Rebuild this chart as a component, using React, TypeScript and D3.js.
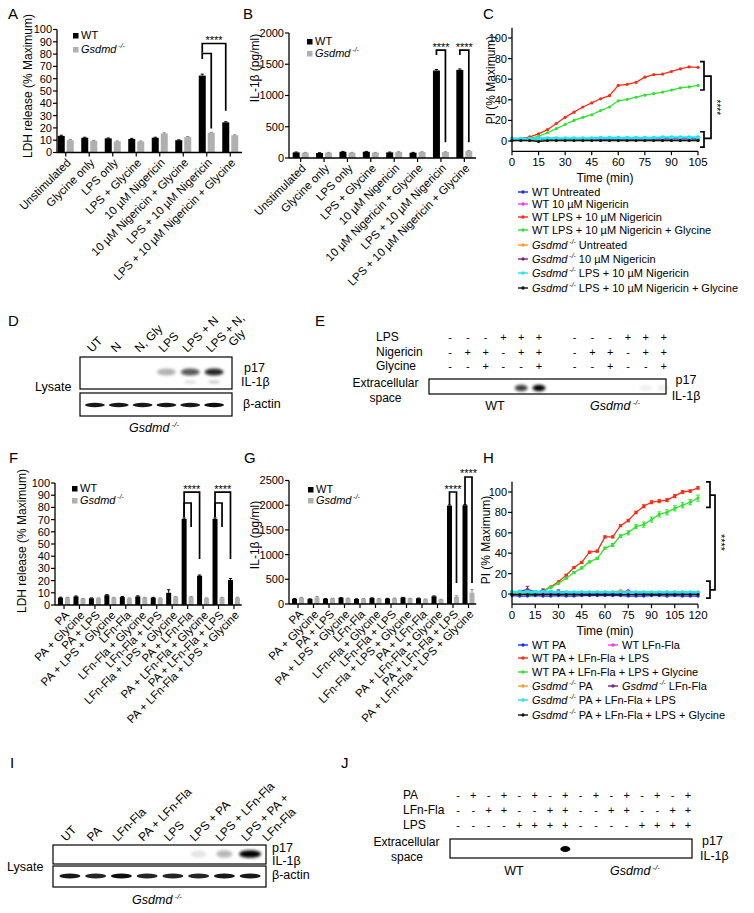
import React from "react";
import * as d3 from "d3";

const FONT = "'Liberation Sans', Arial, Helvetica, sans-serif";
const GREY = "#b0b0b0";
const BLUE = "#1b2cf5";
const MAGENTA = "#f03cf0";
const RED = "#ff2a14";
const GREEN = "#2ee52e";
const ORANGE = "#ff9a26";
const PURPLE = "#7e1f8c";
const CYAN = "#18e8f2";
const BLACK = "#141414";

// ===== Panel A =====
const catsA = ["Unstimulated", "Glycine only", "LPS only", "LPS + Glycine", "10 µM Nigericin", "10 µM Nigericin + Glycine", "LPS + 10 µM Nigericin", "LPS + 10 µM Nigericin + Glycine"];
const ldhWtA = [13.5, 12, 11.5, 11, 12, 10, 62.5, 24.5];
const ldhWtErrA = [0.5, 0.4, 0.3, 0.5, 0.4, 0.3, 1.2, 0.5];
const ldhKoA = [10, 9.5, 9, 9, 15.5, 12.5, 16, 14];
const ldhKoErrA = [0.6, 0.4, 0.4, 0.4, 0.5, 0.5, 0.4, 0.4];
const ticksA = [0, 10, 20, 30, 40, 50, 60, 70, 80, 90, 100];

// ===== Panel B =====
const il1bWtB = [90, 80, 100, 100, 90, 85, 1400, 1410];
const il1bWtErrB = [6, 5, 6, 6, 5, 5, 15, 15];
const il1bKoB = [85, 85, 85, 85, 95, 95, 95, 110];
const il1bKoErrB = [5, 5, 5, 5, 5, 5, 5, 8];
const ticksB = [0, 500, 1000, 1500, 2000];

// ===== Panel C =====
const timesC = [0, 5, 10, 15, 20, 25, 30, 35, 40, 45, 50, 55, 60, 65, 70, 75, 80, 85, 90, 95, 100, 105];
const blueC = [1.5, 2, 2.5, 2, 1.5, 2, 1.5, 1.5, 1.5, 1.5, 1.5, 1.5, 1.5, 1.5, 1.5, 1.5, 1.5, 1.5, 2, 2, 2, 1.5];
const magentaC = [2.5, 2.5, 2.5, 2.5, 2.5, 2.5, 2, 2, 2, 2, 2, 2, 1.5, 1.5, 1.5, 1.5, 1.5, 1.5, 1.5, 1.5, 1, 0.5];
const redC = [1, 2, 4, 7, 11, 17, 23, 28, 33, 37, 41, 44, 54, 55, 57, 62, 64.5, 65, 67.5, 70, 72, 71.5];
const greenC = [1, 1.5, 2.5, 4.5, 8, 12, 16, 20, 23, 25.5, 29.5, 33, 39, 40.5, 42.5, 44.5, 46, 47.5, 49.5, 51.5, 52.5, 54];
const orangeC = [0.5, 0.5, 0.5, 0.5, 0.5, 0.5, 0.5, 0.5, 0.5, 0.5, 0.5, 0.5, 0.5, 0.5, 0.5, 0.5, 0.5, 0.5, 0.5, 0.5, 0.5, 0.5];
const purpleC = [2, 2, 2, 2, 2, 2, 2, 2, 2, 2, 2, 2, 2, 2, 2, 2, 2, 2, 2.5, 2.5, 2.5, 2];
const cyanC = [2, 2, 2, 2.5, 2.5, 2.5, 2.5, 2.5, 2.5, 2.5, 3, 3, 3, 3, 3, 3, 3, 3.5, 3.5, 3.5, 3.5, 3.5];
const blackC = [0.5, 0.5, 0.5, -0.5, 0.5, 0.5, 0.5, 0.5, 0.5, 0.5, 0.5, 0.5, 0.5, 0.5, 0.5, 0.5, 0.5, 0.5, 0.5, 0.5, 0.5, 0.5];
const xTicksC = [0, 15, 30, 45, 60, 75, 90, 105];
const yTicksC = [0, 20, 40, 60, 80, 100];

// ===== Panel D =====
const lanesD = [["UT"], ["N"], ["N, Gly"], ["LPS"], ["LPS + N"], ["LPS + N,", "Gly"]];
const p17D = [0, 0, 0, 0.3, 0.65, 0.85];
const p17LowD = [0, 0, 0, 0, 0.15, 0.22];
const actinD = [0.9, 0.9, 0.9, 0.9, 0.9, 0.95];

// ===== Panel E =====
const lpsE = ["-", "-", "-", "+", "+", "+", "-", "-", "-", "+", "+", "+"];
const nigE = ["-", "+", "+", "-", "+", "+", "-", "+", "+", "-", "+", "+"];
const glyE = ["-", "-", "+", "-", "-", "+", "-", "-", "+", "-", "-", "+"];
const p17E = [0, 0, 0, 0, 0.75, 1, 0, 0, 0, 0, 0.06, 0.06];

// ===== Panel F =====
const catsF = ["PA", "PA + Glycine", "PA + LPS", "PA + LPS + Glycine", "LFn-Fla", "LFn-Fla + Glycine", "LFn-Fla + LPS", "LFn-Fla + LPS + Glycine", "PA + LFn-Fla", "PA + LFn-Fla + Glycine", "PA + LFn-Fla + LPS", "PA + LFn-Fla + LPS + Glycine"];
const ldhWtF = [6, 7, 5.5, 8, 6.5, 7, 6, 10, 70.5, 24, 70.5, 20.5];
const ldhWtErrF = [0.4, 0.4, 0.3, 0.5, 0.5, 0.5, 0.3, 2.5, 0.8, 0.6, 0.8, 1.2];
const ldhKoF = [6, 5, 5.5, 6, 5.5, 6, 5.5, 6.5, 6.5, 5.5, 6, 6];
const ldhKoErrF = [0.3, 0.3, 0.3, 0.3, 0.3, 0.3, 0.3, 0.4, 0.5, 0.3, 0.3, 0.4];

// ===== Panel G =====
const il1bWtG = [105, 100, 105, 125, 100, 120, 110, 130, 115, 155, 1990, 2000];
const il1bWtErrG = [5, 5, 5, 5, 5, 5, 5, 5, 5, 8, 15, 15];
const il1bKoG = [125, 135, 110, 115, 105, 105, 115, 110, 95, 90, 145, 230];
const il1bKoErrG = [10, 15, 5, 5, 5, 5, 5, 5, 5, 5, 20, 60];
const ticksG = [0, 500, 1000, 1500, 2000, 2500];

// ===== Panel H =====
const timesH = [0, 5, 10, 15, 20, 25, 30, 35, 40, 45, 50, 55, 60, 65, 70, 75, 80, 85, 90, 95, 100, 105, 110, 115, 120];
const blueH = [-1.5, -2, -2, -1.5, -2, -2, -1.5, -2, -2, -1.5, -1.5, -1.5, -1.5, -1.5, -1.5, -2, -2, -2, -1.5, -1.5, -2, -1.5, -2, -2, -2];
const magentaH = [0.5, 0.5, 0.5, 0.5, 0.5, 0.5, 0.5, 0.5, 0.5, 0.5, 0.5, 0.5, 0.5, 0.5, 0.5, 3.5, 0.5, 0.5, 0.5, 0.5, 0.5, 0.5, 0.5, 0.5, 0.5];
const redH = [0, 0, 0.5, 1, 3, 7, 12, 18.5, 26, 31, 41, 42, 56, 56, 67, 72, 80, 86, 90, 91, 92, 96, 100, 101, 104];
const redErrH = [0.5, 0.5, 0.5, 0.5, 0.5, 0.5, 0.8, 0.8, 0.8, 1, 1, 1, 1, 1, 1, 1.2, 1.2, 1.5, 1.5, 1.5, 1.5, 1.5, 1.5, 1.2, 1.2];
const greenH = [0, 0, 0, 1, 3, 6.5, 10.5, 15.5, 21, 25.5, 31.5, 35, 45, 48, 57, 60, 66, 68, 73, 78, 80, 84, 87, 90, 94];
const greenErrH = [0.5, 0.5, 0.5, 0.5, 0.5, 0.5, 0.8, 0.8, 1, 1, 1, 1, 1, 1.5, 1.5, 2, 2, 2.5, 2.5, 2.5, 2.5, 2.5, 2.5, 2.5, 3];
const orangeH = [1, 1, 1.5, 1.5, 1, 2, 2, 2, 1.5, 1.5, 1.5, 1.5, 1.5, 1.5, 3.5, 2, 1.5, 1.5, 1.5, 1.5, 1.5, 1.5, 1.5, 1.5, 1.5];
const purpleH = [2, 2.5, 4.5, 2, 3, 2, 2.5, 1.5, 1.5, 1.5, 1.5, 1.5, 1.5, 1.5, 1.5, 2, 1.5, 1.5, 1.5, 1.5, 1.5, 1.5, 1.5, 1.5, 1.5];
const purpleErrH = [0.5, 1, 3, 1, 2, 1, 1.5, 0.5, 0.5, 0.5, 0.5, 0.5, 0.5, 0.5, 0.5, 1, 0.5, 0.5, 0.5, 0.5, 0.5, 0.5, 0.5, 0.5, 0.5];
const cyanH = [2, 2, 2, 2, 2, 2, 1.5, 1.5, 1.5, 1.5, 1.5, 1.5, 1.5, 1.5, 1.5, 1.5, 1.5, 1.5, 1.5, 1.5, 1.5, 1.5, 1.5, 1.5, 1.5];
const blackH = [-0.5, -0.5, -0.5, -0.5, -0.5, -0.5, -0.5, -0.5, -0.5, -0.5, -0.5, -0.5, -0.5, -0.5, -0.5, -0.5, -0.5, -0.5, -0.5, -0.5, -0.5, -0.5, -0.5, -0.5, -0.5];
const xTicksH = [0, 15, 30, 45, 60, 75, 90, 105, 120];
const yTicksH = [0, 20, 40, 60, 80, 100];

// ===== Panel I =====
const lanesI = [["UT"], ["PA"], ["LFn-Fla"], ["PA + LFn-Fla"], ["LPS"], ["LPS + PA"], ["LPS + LFn-Fla"], ["LPS + PA +", "LFn-Fla"]];
const p17I = [0, 0, 0, 0, 0, 0.1, 0.28, 1];
const actinI = [0.9, 0.85, 0.95, 0.85, 0.85, 0.85, 0.9, 0.9];

// ===== Panel J =====
const paJ = ["-", "+", "-", "+", "-", "+", "-", "+", "-", "+", "-", "+", "-", "+", "-", "+"];
const lfnJ = ["-", "-", "+", "+", "-", "-", "+", "+", "-", "-", "+", "+", "-", "-", "+", "+"];
const lpsJ = ["-", "-", "-", "-", "+", "+", "+", "+", "-", "-", "-", "-", "+", "+", "+", "+"];
const p17J = [0, 0, 0, 0, 0, 0, 0, 1, 0, 0, 0, 0, 0, 0, 0, 0];

function gsd(fs: number, rest?: string) {
  return (
    <>
      <tspan fontStyle="italic">Gsdmd</tspan>
      <tspan fontStyle="italic" fontSize={fs * 0.62} dy={-fs * 0.42}>{"\u00A0-/-"}</tspan>
      {rest !== undefined ? <tspan dy={fs * 0.42}>{"\u00A0" + rest}</tspan> : null}
    </>
  );
}

type Side = "wt" | "ko";
interface Bracket { a: [number, Side]; b: [number, Side]; level: number; endA: number; endB: number; stars?: boolean }

function BarPanel(p: any) {
  const x = d3.scaleBand<string>().domain(p.cats).range(p.xRange);
  const y = d3.scaleLinear().domain([0, p.domainMax]).range([p.y0, p.y1]);
  const cx = (i: number) => (x(p.cats[i]) as number) + x.bandwidth() / 2;
  const bx = (i: number, s: Side) => (s === "wt" ? cx(i) - p.gap / 2 - p.barW / 2 : cx(i) + p.gap / 2 + p.barW / 2);
  const bars: any[] = [];
  p.cats.forEach((c: string, i: number) => {
    [["wt", p.wt[i], p.wtErr[i], "#000", "#000"], ["ko", p.ko[i], p.koErr[i], GREY, "#8a8a8a"]].forEach((d: any) => {
      const xc = bx(i, d[0]);
      bars.push(
        <g key={c + d[0]}>
          <rect x={xc - p.barW / 2} y={y(d[1])} width={p.barW} height={p.y0 - y(d[1])} fill={d[3]} />
          <line x1={xc} x2={xc} y1={y(d[1])} y2={y(d[1] + d[2])} stroke={d[4]} strokeWidth={1} />
          <line x1={xc - 1.6} x2={xc + 1.6} y1={y(d[1] + d[2])} y2={y(d[1] + d[2])} stroke={d[4]} strokeWidth={1} />
        </g>
      );
    });
  });
  const fs = 11;
  return (
    <g>
      <text x={p.letterX} y={p.letterY} fontSize={15}>{p.letter}</text>
      {bars}
      <line x1={p.axisX} x2={p.axisX} y1={p.y0} y2={p.y1} stroke="#000" strokeWidth={1.3} />
      {p.ticks.map((t: number) => (
        <g key={t}>
          <line x1={p.axisX - 4} x2={p.axisX} y1={y(t)} y2={y(t)} stroke="#000" strokeWidth={1.2} />
          <text x={p.axisX - 5} y={y(t)} dy="0.36em" textAnchor="end" fontSize={fs}>{t}</text>
        </g>
      ))}
      <line x1={p.axisX} x2={p.xRange[1]} y1={p.y0} y2={p.y0} stroke="#000" strokeWidth={1.3} />
      {p.cats.map((c: string, i: number) => (
        <g key={c}>
          <line x1={cx(i)} x2={cx(i)} y1={p.y0} y2={p.y0 + 4} stroke="#000" strokeWidth={1.2} />
          <text transform={`translate(${cx(i) + 3},${p.y0 + 8}) rotate(-45)`} textAnchor="end" dy="0.35em" fontSize={11.5}>{c}</text>
        </g>
      ))}
      <text transform={`translate(${p.ytitleX},${p.ytitleY}) rotate(-90)`} textAnchor="middle" dy="0.35em" fontSize={12}>{p.ytitle}</text>
      <rect x={p.legendX} y={p.legendY} width={5.5} height={5.5} fill="#000" />
      <text x={p.legendX + 8} y={p.legendY + 5.5} fontSize={fs}>WT</text>
      <rect x={p.legendX} y={p.legendY + p.legendGap} width={5.5} height={5.5} fill={GREY} />
      <text x={p.legendX + 8} y={p.legendY + p.legendGap + 5.5} fontSize={fs}>{gsd(fs)}</text>
      {p.brackets.map((b: Bracket, k: number) => {
        const xa = bx(b.a[0], b.a[1]);
        const xb = bx(b.b[0], b.b[1]);
        return (
          <g key={k}>
            <path d={`M${xa},${y(b.endA)}V${y(b.level)}H${xb}V${y(b.endB)}`} fill="none" stroke="#000" strokeWidth={1.7} />
            {b.stars ? <text x={(xa + xb) / 2} y={y(b.level) + 0.5} textAnchor="middle" fontSize={11}>****</text> : null}
          </g>
        );
      })}
    </g>
  );
}

function LinePanel(p: any) {
  const x = d3.scaleLinear().domain(p.xDomain).range(p.xRange);
  const y = d3.scaleLinear().domain(p.yDomain).range(p.yRange);
  const yb = p.yRange[0];
  const line = d3.line<number>().x((_d, i) => x(p.times[i])).y((v) => y(v));
  const bk = p.bk;
  return (
    <g>
      <text x={p.letterX} y={p.letterY} fontSize={15}>{p.letter}</text>
      {p.series.map((s: any, k: number) => (
        <g key={k}>
          <path d={line(s.values) || ""} fill="none" stroke={s.color} strokeWidth={s.width || 1.3} />
          {s.values.map((v: number, i: number) => (
            <g key={i}>
              {s.err ? (
                <path d={`M${x(p.times[i])},${y(v - s.err[i])}V${y(v + s.err[i])}M${x(p.times[i]) - 1.8},${y(v + s.err[i])}h3.6M${x(p.times[i]) - 1.8},${y(v - s.err[i])}h3.6`} stroke={s.color} strokeWidth={1} fill="none" />
              ) : null}
              <circle cx={x(p.times[i])} cy={y(v)} r={s.r || 1.6} fill={s.color} />
            </g>
          ))}
        </g>
      ))}
      <line x1={p.xRange[0]} x2={p.xRange[0]} y1={p.yRange[0]} y2={p.yRange[1]} stroke="#000" strokeWidth={1.3} />
      <line x1={p.xRange[0]} x2={p.xRange[1]} y1={yb} y2={yb} stroke="#000" strokeWidth={1.3} />
      {p.yTicks.map((t: number) => (
        <g key={t}>
          <line x1={p.xRange[0] - 4} x2={p.xRange[0]} y1={y(t)} y2={y(t)} stroke="#000" strokeWidth={1.2} />
          <text x={p.xRange[0] - 5} y={y(t)} dy="0.36em" textAnchor="end" fontSize={11}>{t}</text>
        </g>
      ))}
      {p.xTicks.map((t: number) => (
        <g key={t}>
          <line x1={x(t)} x2={x(t)} y1={yb} y2={yb + 4} stroke="#000" strokeWidth={1.2} />
          <text x={x(t)} y={yb + 14.5} textAnchor="middle" fontSize={11.5}>{t}</text>
        </g>
      ))}
      <text x={(p.xRange[0] + p.xRange[1]) / 2} y={yb + 31} textAnchor="middle" fontSize={12}>Time (min)</text>
      <text transform={`translate(${p.ytitleX},${p.ytitleY}) rotate(-90)`} textAnchor="middle" dy="0.35em" fontSize={12}>PI (% Maximum)</text>
      <path d={`M${bk.bx - 4},${y(bk.up[0])}H${bk.bx}V${y(bk.up[1])}H${bk.bx - 4}`} fill="none" stroke="#000" strokeWidth={1.7} />
      <path d={`M${bk.bx - 4},${y(bk.low[0])}H${bk.bx}V${y(bk.low[1])}H${bk.bx - 4}`} fill="none" stroke="#000" strokeWidth={1.7} />
      <path d={`M${bk.bx},${y(bk.conn[0])}H${bk.cx}V${y(bk.conn[1])}H${bk.bx}`} fill="none" stroke="#000" strokeWidth={1.7} />
      <text transform={`translate(${bk.cx + 2},${y((bk.conn[0] + bk.conn[1]) / 2)}) rotate(90)`} textAnchor="middle" fontSize={bk.starSize}>****</text>
    </g>
  );
}

function LegendItem({ x, y, color, children }: any) {
  return (
    <g>
      <line x1={x} x2={x + 10} y1={y} y2={y} stroke={color} strokeWidth={1.4} />
      <circle cx={x + 5} cy={y} r={1.7} fill={color} />
      <text x={x + 14} y={y} dy="0.35em" fontSize={11}>{children}</text>
    </g>
  );
}

function LaneLabel({ x, y, lines, fs, dx2, dy2 }: any) {
  return (
    <g transform={`translate(${x},${y}) rotate(-45)`}>
      <text x={0} y={0} fontSize={fs}>{lines[0]}</text>
      {lines[1] ? <text x={dx2} y={dy2} fontSize={fs}>{lines[1]}</text> : null}
    </g>
  );
}

export default function App() {
  const xD = d3.scaleBand<number>().domain(d3.range(lanesD.length)).range([83, 226]);
  const cD = (i: number) => (xD(i) as number) + xD.bandwidth() / 2;
  const xE = d3.scalePoint<number>().domain(d3.range(13)).range([450, 663.6]);
  const cE = (j: number) => xE(j < 6 ? j : j + 1) as number;
  const xI = d3.scaleBand<number>().domain(d3.range(lanesI.length)).range([57, 263]);
  const cI = (i: number) => (xI(i) as number) + xI.bandwidth() / 2;
  const xJ = d3.scalePoint<number>().domain(d3.range(16)).range([458, 688]);
  const cJ = (j: number) => xJ(j) as number;

  const seriesC = [
    { color: BLUE, values: blueC },
    { color: MAGENTA, values: magentaC },
    { color: RED, values: redC },
    { color: GREEN, values: greenC },
    { color: ORANGE, values: orangeC },
    { color: PURPLE, values: purpleC },
    { color: CYAN, values: cyanC, width: 2.2, r: 2.2 },
    { color: BLACK, values: blackC },
  ];
  const seriesH = [
    { color: BLUE, values: blueH },
    { color: MAGENTA, values: magentaH },
    { color: RED, values: redH, err: redErrH },
    { color: GREEN, values: greenH, err: greenErrH },
    { color: ORANGE, values: orangeH },
    { color: PURPLE, values: purpleH, err: purpleErrH },
    { color: CYAN, values: cyanH, width: 2.2, r: 2.2 },
    { color: BLACK, values: blackH },
  ];

  return (
    <svg width={754} height={913} style={{ position: "absolute", left: 0, top: 0 }} fontFamily={FONT}>
      <defs>
        <filter id="blur1" x="-50%" y="-150%" width="200%" height="400%"><feGaussianBlur stdDeviation="1.4" /></filter>
        <filter id="blur2" x="-50%" y="-150%" width="200%" height="400%"><feGaussianBlur stdDeviation="0.7" /></filter>
      </defs>
      <rect width={754} height={913} fill="#fff" />

      <BarPanel letter="A" letterX={8} letterY={19} axisX={57} xRange={[54, 242]} y0={152.5} y1={29.5} domainMax={100} ticks={ticksA}
        cats={catsA} wt={ldhWtA} wtErr={ldhWtErrA} ko={ldhKoA} koErr={ldhKoErrA} barW={7} gap={2}
        ytitle="LDH release (% Maximum)" ytitleX={28} ytitleY={86} legendX={73} legendY={33} legendGap={14}
        brackets={[
          { a: [6, "wt"], b: [7, "wt"], level: 88.6, endA: 81, endB: 34, stars: true },
          { a: [6, "wt"], b: [6, "ko"], level: 80.5, endA: 76, endB: 19.5 },
        ]} />

      <BarPanel letter="B" letterX={243} letterY={19} axisX={289} xRange={[289, 476]} y0={158} y1={33} domainMax={2000} ticks={ticksB}
        cats={catsA} wt={il1bWtB} wtErr={il1bWtErrB} ko={il1bKoB} koErr={il1bKoErrB} barW={7} gap={2}
        ytitle="IL-1β (pg/ml)" ytitleX={255} ytitleY={68} legendX={307} legendY={39} legendGap={12}
        brackets={[
          { a: [6, "wt"], b: [6, "ko"], level: 1727, endA: 1647, endB: 252, stars: true },
          { a: [7, "wt"], b: [7, "ko"], level: 1727, endA: 1647, endB: 252, stars: true },
        ]} />

      <LinePanel letter="C" letterX={483} letterY={19} xDomain={[0, 105]} xRange={[512, 698]} yDomain={[-10, 110]} yRange={[151.3, 27.7]}
        times={timesC} series={seriesC} xTicks={xTicksC} yTicks={yTicksC} ytitleX={491} ytitleY={80}
        bk={{ bx: 704, cx: 711, up: [77, 49.5], low: [9, -6], conn: [63, 2.5], starSize: 10 }} />
      <LegendItem x={518} y={192} color={BLUE}>WT Untreated</LegendItem>
      <LegendItem x={518} y={204} color={MAGENTA}>WT 10 µM Nigericin</LegendItem>
      <LegendItem x={518} y={217} color={RED}>WT LPS + 10 µM Nigericin</LegendItem>
      <LegendItem x={518} y={230} color={GREEN}>WT LPS + 10 µM Nigericin + Glycine</LegendItem>
      <LegendItem x={518} y={245} color={ORANGE}>{gsd(11, "Untreated")}</LegendItem>
      <LegendItem x={518} y={259} color={PURPLE}>{gsd(11, "10 µM Nigericin")}</LegendItem>
      <LegendItem x={518} y={273} color={CYAN}>{gsd(11, "LPS + 10 µM Nigericin")}</LegendItem>
      <LegendItem x={518} y={288} color={BLACK}>{gsd(11, "LPS + 10 µM Nigericin + Glycine")}</LegendItem>

      <text x={8} y={326} fontSize={15}>D</text>
      {lanesD.map((l, i) => (
        <LaneLabel key={i} x={cD(i) - 3} y={353} lines={l} fs={12} dx2={20} dy2={11.5} />
      ))}
      <rect x={80} y={357} width={152} height={32} fill="#fff" stroke="#000" strokeWidth={1.2} />
      <rect x={80} y={393} width={152} height={23} fill="#fff" stroke="#000" strokeWidth={1.2} />
      {p17D.map((a, i) => a > 0 ? <ellipse key={"p" + i} cx={cD(i)} cy={372} rx={9.5} ry={3.6} fill="#000" opacity={a} filter="url(#blur1)" /> : null)}
      {p17LowD.map((a, i) => a > 0 ? <ellipse key={"l" + i} cx={cD(i)} cy={382} rx={6} ry={1.6} fill="#000" opacity={a} filter="url(#blur1)" /> : null)}
      {actinD.map((a, i) => <ellipse key={"a" + i} cx={cD(i)} cy={405} rx={10} ry={2.2} fill="#000" opacity={a} filter="url(#blur2)" />)}
      <text x={35} y={391} fontSize={12.5}>Lysate</text>
      <text x={244} y={372} fontSize={12.5}>p17</text>
      <text x={241} y={386} fontSize={12.5}>IL-1β</text>
      <text x={243} y={408} fontSize={12.5}>β-actin</text>
      <text x={154} y={432} fontSize={12.5} textAnchor="middle">{gsd(12.5)}</text>

      <text x={315} y={326} fontSize={15}>E</text>
      <text x={376} y={337} dy="0.35em" fontSize={12}>LPS</text>
      <text x={376} y={352} dy="0.35em" fontSize={12}>Nigericin</text>
      <text x={376} y={366} dy="0.35em" fontSize={12}>Glycine</text>
      {lpsE.map((s, j) => <text key={"l" + j} x={cE(j)} y={337} dy="0.35em" textAnchor="middle" fontSize={11}>{s}</text>)}
      {nigE.map((s, j) => <text key={"n" + j} x={cE(j)} y={352} dy="0.35em" textAnchor="middle" fontSize={11}>{s}</text>)}
      {glyE.map((s, j) => <text key={"g" + j} x={cE(j)} y={366} dy="0.35em" textAnchor="middle" fontSize={11}>{s}</text>)}
      <rect x={429} y={379} width={237} height={15} fill="#fff" stroke="#000" strokeWidth={1.2} />
      {p17E.map((a, j) => a > 0 ? <ellipse key={"e" + j} cx={cE(j)} cy={388} rx={6.5} ry={3.2} fill="#000" opacity={a} filter="url(#blur1)" /> : null)}
      <text x={385.5} y={387} textAnchor="middle" fontSize={12}>Extracellular</text>
      <text x={385.5} y={402} textAnchor="middle" fontSize={12}>space</text>
      <text x={686} y={384} textAnchor="middle" fontSize={12.5}>p17</text>
      <text x={686} y={400} textAnchor="middle" fontSize={12.5}>IL-1β</text>
      <text x={495} y={410} textAnchor="middle" fontSize={12.5}>WT</text>
      <text x={615} y={410} textAnchor="middle" fontSize={12.5}>{gsd(12.5)}</text>

      <BarPanel letter="F" letterX={9} letterY={463} axisX={55} xRange={[56.3, 241.7]} y0={605} y1={483} domainMax={100} ticks={ticksA}
        cats={catsF} wt={ldhWtF} wtErr={ldhWtErrF} ko={ldhKoF} koErr={ldhKoErrF} barW={5} gap={2}
        ytitle="LDH release (% Maximum)" ytitleX={22} ytitleY={541} legendX={72} legendY={486} legendGap={12}
        brackets={[
          { a: [8, "wt"], b: [9, "wt"], level: 92.6, endA: 72, endB: 37.7, stars: true },
          { a: [8, "wt"], b: [8, "ko"], level: 83.6, endA: 72, endB: 64 },
          { a: [10, "wt"], b: [11, "wt"], level: 92.6, endA: 72, endB: 37.7, stars: true },
          { a: [10, "wt"], b: [10, "ko"], level: 83.6, endA: 72, endB: 64 },
        ]} />

      <BarPanel letter="G" letterX={244} letterY={463} axisX={289} xRange={[290.25, 476.25]} y0={604} y1={480.5} domainMax={2500} ticks={ticksG}
        cats={catsF} wt={il1bWtG} wtErr={il1bWtErrG} ko={il1bKoG} koErr={il1bKoErrG} barW={5} gap={2}
        ytitle="IL-1β (pg/ml)" ytitleX={255} ytitleY={535} legendX={308} legendY={487} legendGap={11}
        brackets={[
          { a: [10, "wt"], b: [10, "ko"], level: 2267, endA: 2010, endB: 425, stars: true },
          { a: [11, "wt"], b: [11, "ko"], level: 2571, endA: 2010, endB: 425, stars: true },
        ]} />

      <LinePanel letter="H" letterX={483} letterY={463} xDomain={[0, 120]} xRange={[512, 698]} yDomain={[-10, 110]} yRange={[604.2, 481.8]}
        times={timesH} series={seriesH} xTicks={xTicksH} yTicks={yTicksH} ytitleX={486} ytitleY={540}
        bk={{ bx: 710, cx: 715, up: [110, 85], low: [12.7, -4], conn: [97, 4], starSize: 11 }} />
      <LegendItem x={518} y={645} color={BLUE}>WT PA</LegendItem>
      <LegendItem x={608} y={645} color={MAGENTA}>WT LFn-Fla</LegendItem>
      <LegendItem x={518} y={658} color={RED}>WT PA + LFn-Fla + LPS</LegendItem>
      <LegendItem x={518} y={672} color={GREEN}>WT PA + LFn-Fla + LPS + Glycine</LegendItem>
      <LegendItem x={518} y={686} color={ORANGE}>{gsd(11, "PA")}</LegendItem>
      <LegendItem x={608} y={686} color={PURPLE}>{gsd(11, "LFn-Fla")}</LegendItem>
      <LegendItem x={518} y={700} color={CYAN}>{gsd(11, "PA + LFn-Fla + LPS")}</LegendItem>
      <LegendItem x={518} y={715} color={BLACK}>{gsd(11, "PA + LFn-Fla + LPS + Glycine")}</LegendItem>

      <text x={10} y={768} fontSize={15}>I</text>
      {lanesI.map((l, i) => (
        <LaneLabel key={i} x={cI(i) - 4} y={842} lines={l} fs={12} dx2={15} dy2={15} />
      ))}
      <rect x={53} y={845} width={213} height={19} fill="#fff" stroke="#000" strokeWidth={1.2} />
      <rect x={53} y={866} width={213} height={21} fill="#fff" stroke="#000" strokeWidth={1.2} />
      {p17I.map((a, i) => a > 0 ? <ellipse key={"p" + i} cx={cI(i)} cy={854} rx={a > 0.5 ? 11 : 8} ry={3.8} fill="#000" opacity={a} filter="url(#blur1)" /> : null)}
      {actinI.map((a, i) => <ellipse key={"a" + i} cx={cI(i)} cy={876} rx={10.5} ry={2.6} fill="#000" opacity={a} filter="url(#blur2)" />)}
      <text x={7} y={871} fontSize={12.5}>Lysate</text>
      <text x={272} y={852} fontSize={12.5}>p17</text>
      <text x={272} y={865} fontSize={12.5}>IL-1β</text>
      <text x={272} y={879} fontSize={12.5}>β-actin</text>
      <text x={157} y={904} fontSize={12.5} textAnchor="middle">{gsd(12.5)}</text>

      <text x={341} y={768} fontSize={15}>J</text>
      <text x={403} y={795} dy="0.35em" fontSize={12}>PA</text>
      <text x={403} y={810} dy="0.35em" fontSize={12}>LFn-Fla</text>
      <text x={403} y={825} dy="0.35em" fontSize={12}>LPS</text>
      {paJ.map((s, j) => <text key={"p" + j} x={cJ(j)} y={795} dy="0.35em" textAnchor="middle" fontSize={11}>{s}</text>)}
      {lfnJ.map((s, j) => <text key={"f" + j} x={cJ(j)} y={810} dy="0.35em" textAnchor="middle" fontSize={11}>{s}</text>)}
      {lpsJ.map((s, j) => <text key={"s" + j} x={cJ(j)} y={825} dy="0.35em" textAnchor="middle" fontSize={11}>{s}</text>)}
      <rect x={450} y={839} width={242} height={19} fill="#fff" stroke="#000" strokeWidth={1.2} />
      {p17J.map((a, j) => a > 0 ? <ellipse key={"j" + j} cx={cJ(j)} cy={849} rx={5} ry={3} fill="#000" opacity={a} filter="url(#blur2)" /> : null)}
      <text x={406.5} y={846} textAnchor="middle" fontSize={12}>Extracellular</text>
      <text x={407} y={861} textAnchor="middle" fontSize={12}>space</text>
      <text x={702} y={845} fontSize={12.5}>p17</text>
      <text x={700} y={860} fontSize={12.5}>IL-1β</text>
      <text x={514} y={875} textAnchor="middle" fontSize={12.5}>WT</text>
      <text x={635} y={875} textAnchor="middle" fontSize={12.5}>{gsd(12.5)}</text>
    </svg>
  );
}
